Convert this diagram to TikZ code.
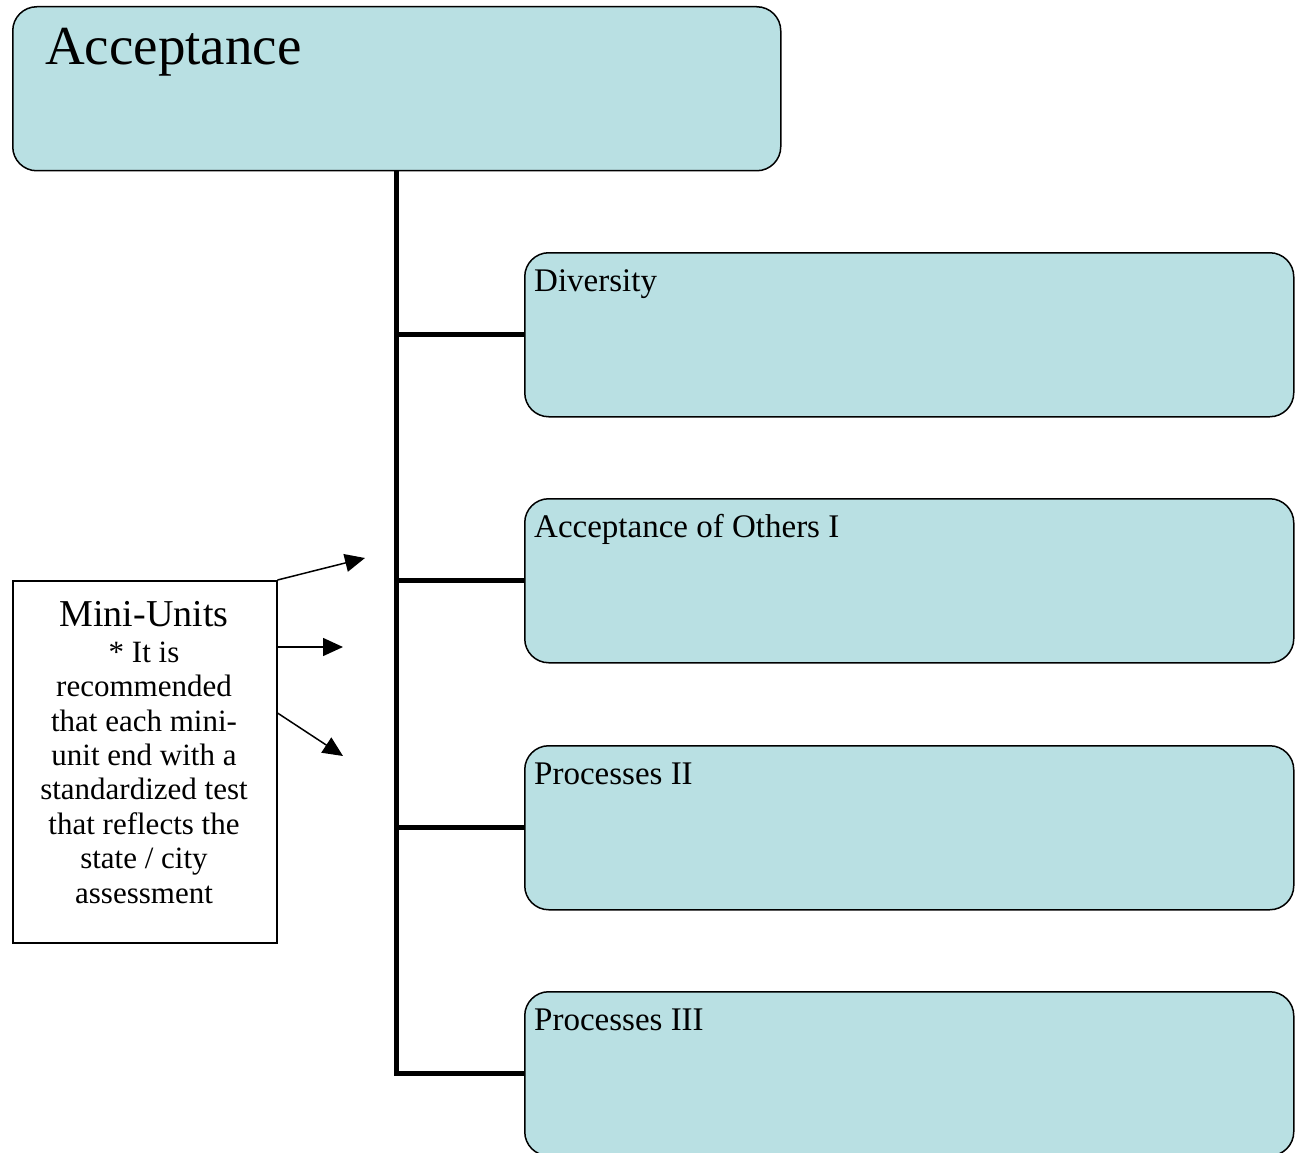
\documentclass[tikz,border=0pt]{standalone}
\usepackage{fontspec}
\setmainfont{Liberation Serif}
\usetikzlibrary{arrows.meta}
\definecolor{boxfill}{HTML}{B9E0E3}
\begin{document}
\begin{tikzpicture}[x=1pt,y=-1pt,
  bluebox/.style={draw=black,line width=1.5pt,fill=boxfill,rounded corners=24pt,
    inner sep=0pt,anchor=north west,minimum width=769pt,minimum height=164pt},
  boxlabel/.style={anchor=base west,inner sep=0pt,font=\fontsize{33}{36}\selectfont},
  trunk/.style={line width=5pt},
  pointer/.style={line width=1.5pt,-{Triangle[length=20pt,width=18pt]}}]
\useasboundingbox (0,0) rectangle (1296,1153);
% top box
\node[bluebox,minimum width=768pt,minimum height=164pt] (top) at (12,6) {};
\node[anchor=base west,inner sep=0pt,font=\fontsize{55}{60}\selectfont] (toplbl) at (45,65) {Acceptance};
% child boxes
\node[bluebox] (c1) at (524,252) {};
\node[bluebox] (c2) at (524,498) {};
\node[bluebox] (c3) at (524,745) {};
\node[bluebox] (c4) at (524,991) {};
\node[boxlabel] (l1) at (534,291) {Diversity};
\node[boxlabel] (l2) at (534,537) {Acceptance of Others I};
\node[boxlabel] (l3) at (534,784) {Processes II};
\node[boxlabel] (l4) at (534,1030) {Processes III};
% connectors
\draw[trunk] (top.south) |- (c4.west);
\draw[trunk] (top.south |- c1.west) -- (c1.west);
\draw[trunk] (top.south |- c2.west) -- (c2.west);
\draw[trunk] (top.south |- c3.west) -- (c3.west);
% mini-units box
\node[draw=black,line width=1.5pt,fill=white,anchor=north west,inner sep=0pt,
  minimum width=264pt,minimum height=362pt] (mini) at (12,580) {};
\node[anchor=base,inner sep=0pt,font=\fontsize{38}{40}\selectfont] (minititle) at (144,626) {Mini-Units};
\node[anchor=base,inner sep=0pt,align=center,font=\fontsize{31}{34.4}\selectfont] (minitext) at (144,903)
  {* It is\\recommended\\that each mini-\\unit end with a\\standardized test\\that reflects the\\state / city\\assessment};
% arrows
\coordinate (a1) at (365,558);
\coordinate (a2) at (343,647);
\coordinate (a3) at (343,756);
\draw[pointer] (mini.north east) -- (a1);
\draw[pointer] (mini.east |- a2) -- (a2);
\draw[pointer] ([yshift=-133pt]mini.north east) -- (a3);
\end{tikzpicture}
\end{document}
